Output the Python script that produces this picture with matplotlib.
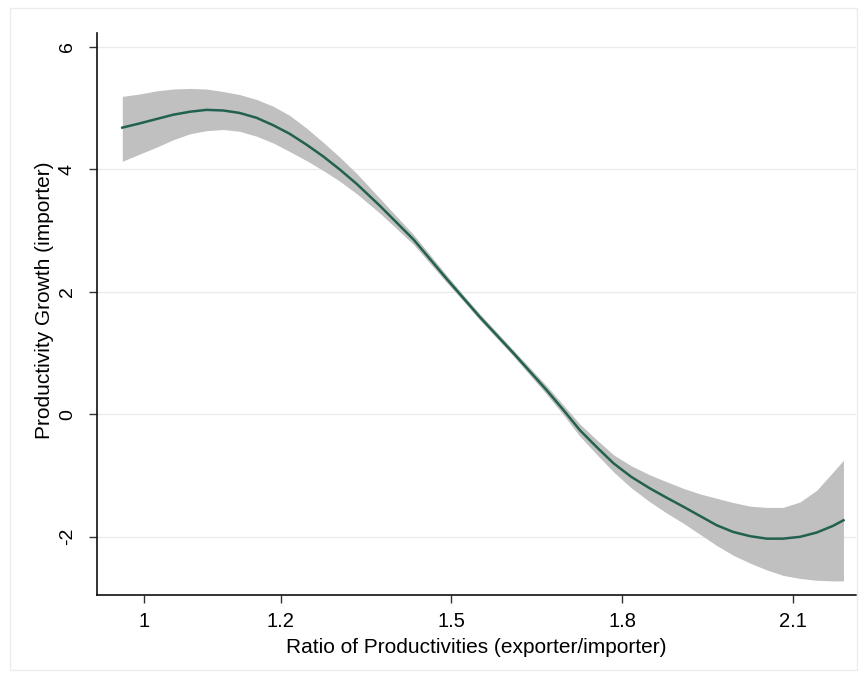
import matplotlib
matplotlib.use("Agg")
import matplotlib.pyplot as plt
from matplotlib.patches import Rectangle

# Data
ratio = [0.922, 0.953, 0.982, 1.011, 1.041, 1.070, 1.099, 1.128, 1.158, 1.187,
         1.216, 1.246, 1.275, 1.305, 1.334, 1.375, 1.404, 1.434, 1.463, 1.492,
         1.521, 1.550, 1.580, 1.609, 1.638, 1.667, 1.697, 1.726, 1.756, 1.785,
         1.816, 1.849, 1.878, 1.908, 1.937, 1.966, 1.995, 2.025, 2.054, 2.083,
         2.113, 2.142, 2.171, 2.189]
fit = [4.68, 4.75, 4.82, 4.89, 4.94, 4.97, 4.96, 4.92, 4.84, 4.72,
       4.58, 4.40, 4.21, 3.99, 3.76, 3.40, 3.13, 2.85, 2.53, 2.21,
       1.90, 1.59, 1.29, 1.00, 0.70, 0.40, 0.07, -0.26, -0.54, -0.80,
       -1.02, -1.21, -1.36, -1.51, -1.66, -1.81, -1.92, -1.99, -2.03, -2.03,
       -2.00, -1.93, -1.82, -1.73]
ci_hi = [5.19, 5.23, 5.28, 5.31, 5.32, 5.31, 5.27, 5.22, 5.14, 5.03,
         4.88, 4.67, 4.44, 4.19, 3.93, 3.52, 3.23, 2.93, 2.60, 2.27,
         1.95, 1.64, 1.34, 1.05, 0.76, 0.47, 0.15, -0.16, -0.42, -0.66,
         -0.84, -0.99, -1.10, -1.21, -1.30, -1.37, -1.44, -1.50, -1.52, -1.52,
         -1.43, -1.24, -0.94, -0.75]
ci_lo = [4.13, 4.25, 4.36, 4.48, 4.58, 4.63, 4.65, 4.62, 4.54, 4.43,
         4.29, 4.14, 3.98, 3.80, 3.60, 3.28, 3.03, 2.77, 2.46, 2.15,
         1.85, 1.54, 1.24, 0.95, 0.64, 0.33, -0.01, -0.36, -0.66, -0.94,
         -1.20, -1.43, -1.61, -1.78, -1.96, -2.14, -2.30, -2.43, -2.54, -2.63,
         -2.68, -2.71, -2.72, -2.72]

xtick_vals = [0.96, 1.2, 1.5, 1.8, 2.1]
xtick_labels = ["1", "1.2", "1.5", "1.8", "2.1"]
ytick_vals = [-2, 0, 2, 4, 6]
ytick_labels = ["-2", "0", "2", "4", "6"]

plt.rcParams['font.family'] = ['Liberation Sans', 'DejaVu Sans']

fig = plt.figure(figsize=(8.67, 6.81), dpi=100)
fig.patch.set_facecolor('white')
fig.patches.append(Rectangle((0.012, 0.016), 0.976, 0.972, transform=fig.transFigure,
                             fill=False, edgecolor='#ececec', linewidth=1.0))

ax = fig.add_axes([0.1115, 0.1263, 0.8758, 0.8257])
ax.fill_between(ratio, ci_lo, ci_hi, color='#c0c0c0', linewidth=0, zorder=2)
ax.plot(ratio, fit, color='#22614f', linewidth=1.8, zorder=3,
        solid_joinstyle='round')

ax.set_xlim(0.877, 2.211)
ax.set_ylim(-2.95, 6.23)

ax.set_xticks(xtick_vals)
ax.set_xticklabels(xtick_labels, fontsize=14.5)
ax.set_yticks(ytick_vals)
ax.set_yticklabels(ytick_labels, fontsize=14, rotation=90, va='center')

ax.tick_params(axis='both', direction='out', length=6, width=1.0, color='#333333')
ax.tick_params(axis='x', pad=6)
ax.tick_params(axis='y', pad=9)

for s in ['top', 'right']:
    ax.spines[s].set_visible(False)
for s in ['left', 'bottom']:
    ax.spines[s].set_linewidth(1.2)
    ax.spines[s].set_color('#111111')

ax.yaxis.grid(True, color='#ebebeb', linewidth=1.0, zorder=0)
ax.set_axisbelow(True)

ax.set_xlabel("Ratio of Productivities (exporter/importer)", fontsize=15, labelpad=5)
ax.set_ylabel("Productivity Growth (importer)", fontsize=15)
ax.yaxis.set_label_coords(-0.056, 0.525)

fig.savefig("out.png", dpi=100)
